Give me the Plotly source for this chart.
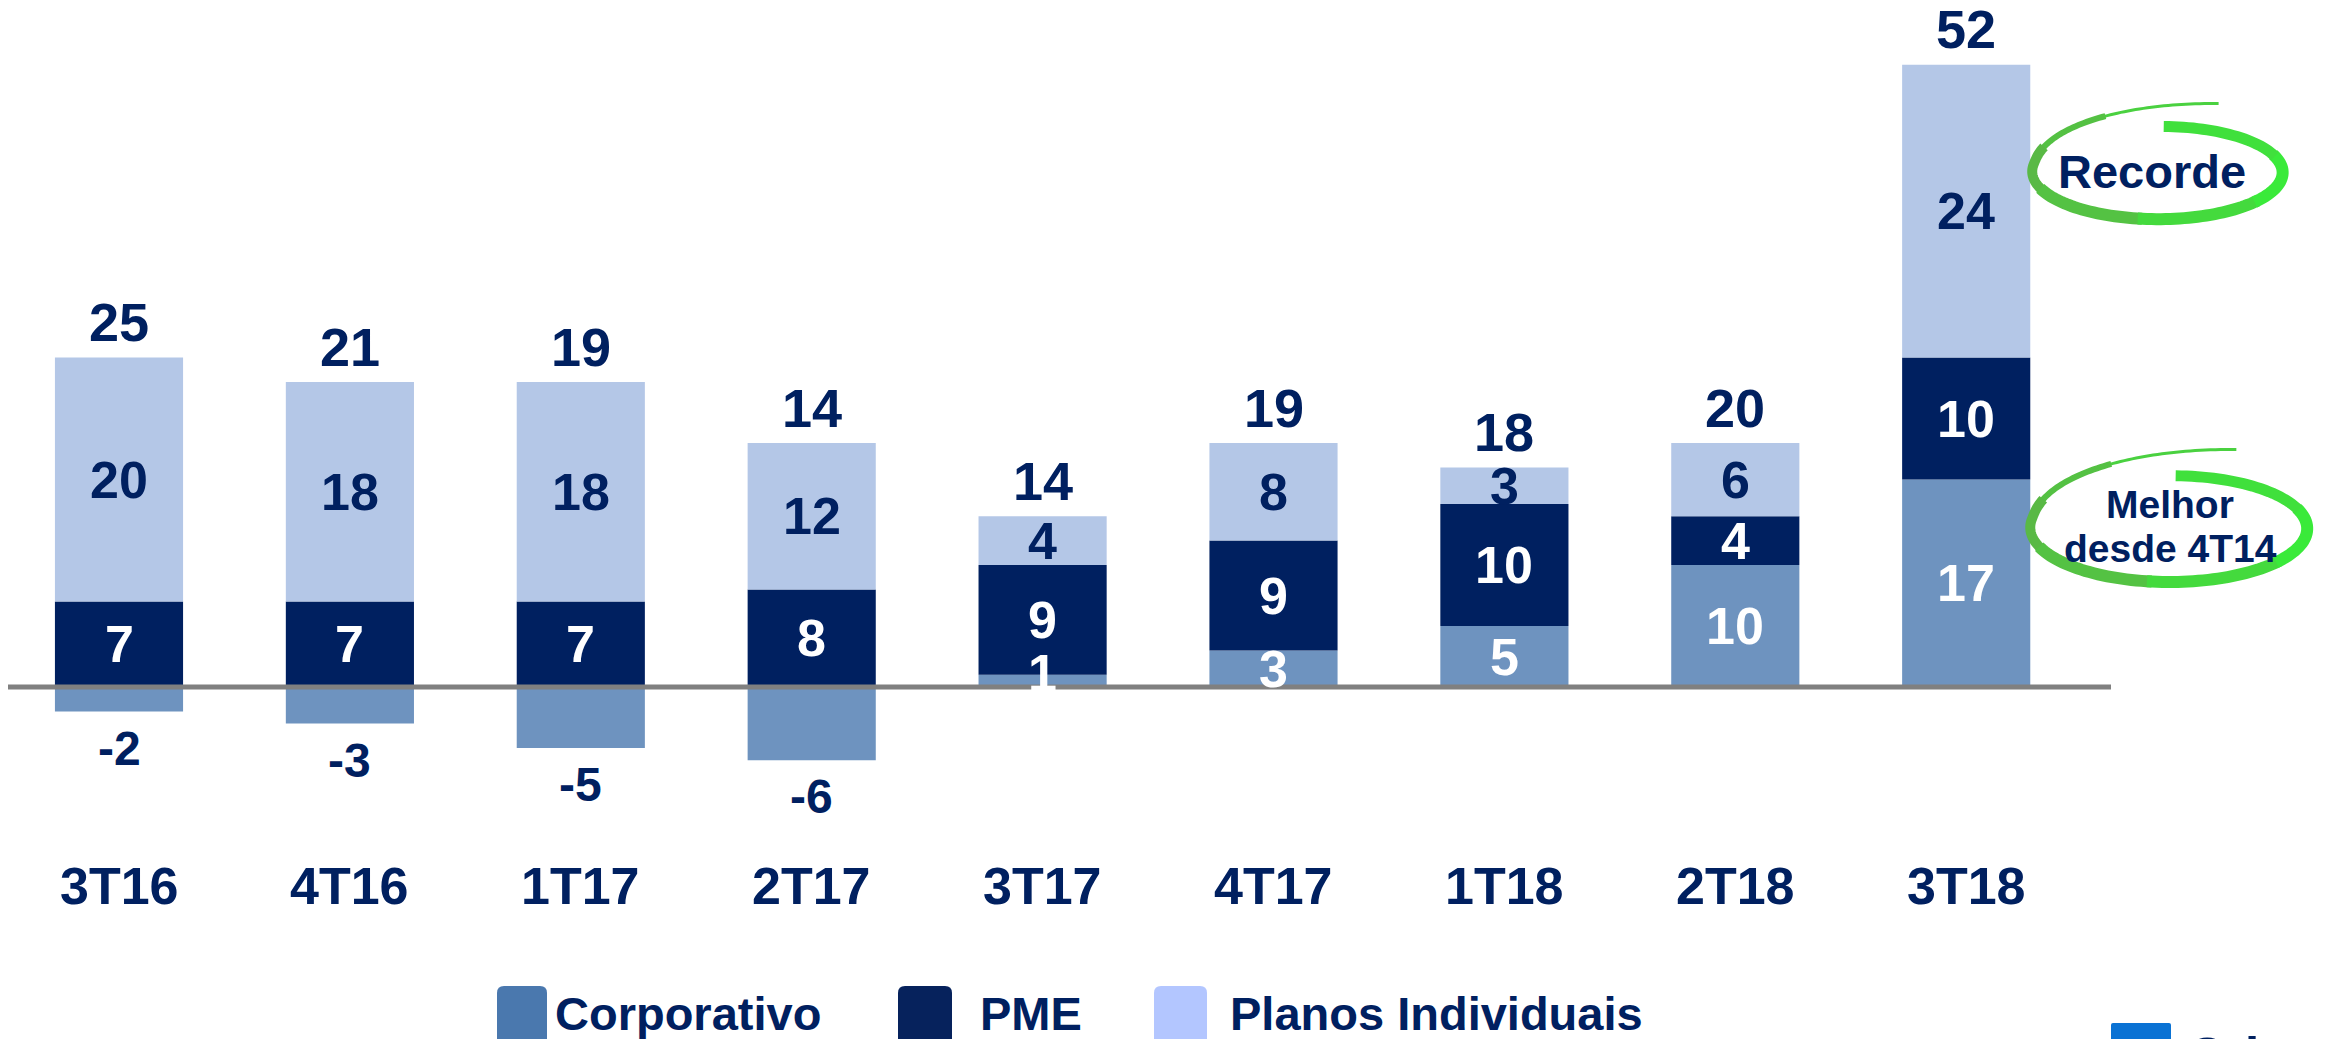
import numpy as np
import plotly.graph_objects as go

# ---------------- data ----------------
categories = ["3T16", "4T16", "1T17", "2T17", "3T17", "4T17", "1T18", "2T18", "3T18"]
corporativo = [-2, -3, -5, -6, 1, 3, 5, 10, 17]
pme = [7, 7, 7, 8, 9, 9, 10, 4, 10]
planos = [20, 18, 18, 12, 4, 8, 3, 6, 24]
totais = [25, 21, 19, 14, 14, 19, 18, 20, 52]
series_names = ["Corporativo", "PME", "Planos Individuais"]

# ---------------- style / geometry ----------------
W, H = 2331, 1039          # target page size
OFF = 8                    # default body margin of the html page
Wf, Hf = W - OFF, H - OFF  # figure size
ZERO_PX = 687
PX_PER_UNIT = 12.2
X0_PX = 119
STEP_PX = 230.9
NAVY = "#002060"
C_CORP = "#6E93BF"
C_PME = "#002060"
C_PLAN = "#B4C7E7"
FONT = "Liberation Sans, Arial, sans-serif"

y_top = (ZERO_PX - OFF) / PX_PER_UNIT
y_bot = -(Hf - (ZERO_PX - OFF)) / PX_PER_UNIT
x_left = -(X0_PX - OFF) / STEP_PX
x_right = (Wf - (X0_PX - OFF)) / STEP_PX


def px(xp):
    return (xp - OFF) / Wf


def py(yp):
    return 1 - (yp - OFF) / Hf


xs = list(range(len(categories)))
fig = go.Figure()
for vals, col, name in [(corporativo, C_CORP, series_names[0]),
                        (pme, C_PME, series_names[1]),
                        (planos, C_PLAN, series_names[2])]:
    fig.add_trace(go.Bar(x=xs, y=vals, width=0.555, name=name,
                         marker=dict(color=col, line=dict(width=0)),
                         hoverinfo="skip", showlegend=False))

annotations = []


def txt(x, y, s, size, color, xref="x", yref="y", xanchor="center", yanchor="middle"):
    annotations.append(dict(x=x, y=y, xref=xref, yref=yref, text="<b>%s</b>" % s,
                            showarrow=False, xanchor=xanchor, yanchor=yanchor,
                            font=dict(family=FONT, size=size, color=color)))


for i in xs:
    base = 0.0
    for vals, tcol in [(corporativo, "white"), (pme, "white"), (planos, NAVY)]:
        v = vals[i]
        if v >= 0:
            yc = max(base + v / 2.0, base + 1.15)
            txt(i, yc, str(v), 52, tcol)
            base += v
        else:
            txt(i, v - 3.0, str(v), 48, NAVY)
    txt(i, base + 2.9, str(totais[i]), 54, NAVY)
    txt(i, -16.3, categories[i], 52, NAVY)

shapes = []
# zero line
shapes.append(dict(type="line", xref="paper", yref="y", x0=px(8), x1=px(2111), y0=0, y1=0,
                   line=dict(color="#808080", width=5), layer="above"))


def rrect(x0, y0, x1, y1, r, color):
    pts = f"M {px(x0 + r)},{py(y0)} L {px(x1 - r)},{py(y0)} Q {px(x1)},{py(y0)} {px(x1)},{py(y0 + r)} " \
          f"L {px(x1)},{py(y1 - r)} Q {px(x1)},{py(y1)} {px(x1 - r)},{py(y1)} " \
          f"L {px(x0 + r)},{py(y1)} Q {px(x0)},{py(y1)} {px(x0)},{py(y1 - r)} " \
          f"L {px(x0)},{py(y0 + r)} Q {px(x0)},{py(y0)} {px(x0 + r)},{py(y0)} Z"
    return dict(type="path", xref="paper", yref="paper", path=pts,
                fillcolor=color, line=dict(width=0), layer="above")


# legend
legend_items = [(497, 547, 553, "#4A78AE"), (898, 952, 978, "#06225C"), (1154, 1207, 1228, "#B3C6FF")]
for (x0, x1, tx, col), name in zip(legend_items, series_names):
    shapes.append(rrect(x0, 986, x1, 1045, 7, col))
    txt(px(tx), py(1013), name, 47, NAVY, xref="paper", yref="paper", xanchor="left")

# logo fragment
shapes.append(rrect(2111, 1023, 2171, 1050, 2, "#0A72D4"))
annotations.append(dict(x=px(2185), y=py(1025), xref="paper", yref="paper",
                        text="<b>Odontoprev</b>", showarrow=False, xanchor="left", yanchor="top",
                        font=dict(family=FONT, size=52, color=NAVY)))


# hand-drawn green ellipses
def lerp_color(t):
    a = np.array([0x5A, 0xB9, 0x46])
    b = np.array([0x3A, 0xEB, 0x3A])
    c = a + (b - a) * t
    return "rgb(%d,%d,%d)" % tuple(c.astype(int))


def spiral(cx, cy, rx, ry):
    segs = [(72, 112, 3), (110, 152, 6), (150, 202, 10), (200, 262, 12),
            (260, 322, 12), (320, 382, 12), (380, 448, 11)]
    out = []
    for a0, a1, w in segs:
        th = np.linspace(a0, a1, 30)
        r = 1.0 + 0.5 * np.clip((170 - th) / 98.0, 0, None) ** 1.5
        r = r - 0.05 * np.clip((th - 170) / 278.0, 0, None)
        xpx = cx + rx * r * np.cos(np.radians(th))
        ypx = cy - ry * r * np.sin(np.radians(th))
        path = "M " + " L ".join(f"{px(a)},{py(b)}" for a, b in zip(xpx, ypx))
        t = (np.cos(np.radians((a0 + a1) / 2)) + 1) / 2
        out.append(dict(type="path", xref="paper", yref="paper", path=path,
                        line=dict(color=lerp_color(t), width=w), layer="above"))
    return out


shapes += spiral(2159.5, 172, 127.5, 48)
shapes += spiral(2171, 528, 141, 55)
txt(px(2152), py(172), "Recorde", 47, NAVY, xref="paper", yref="paper")
txt(px(2170), py(505), "Melhor", 39, NAVY, xref="paper", yref="paper")
txt(px(2170), py(548), "desde 4T14", 39, NAVY, xref="paper", yref="paper")

fig.update_layout(
    width=Wf, height=Hf, barmode="relative",
    margin=dict(l=0, r=0, t=0, b=0, pad=0),
    paper_bgcolor="white", plot_bgcolor="white",
    xaxis=dict(visible=False, range=[x_left, x_right]),
    yaxis=dict(visible=False, range=[y_bot, y_top]),
    showlegend=False,
    shapes=shapes, annotations=annotations,
)
fig.write_html("out.html")
